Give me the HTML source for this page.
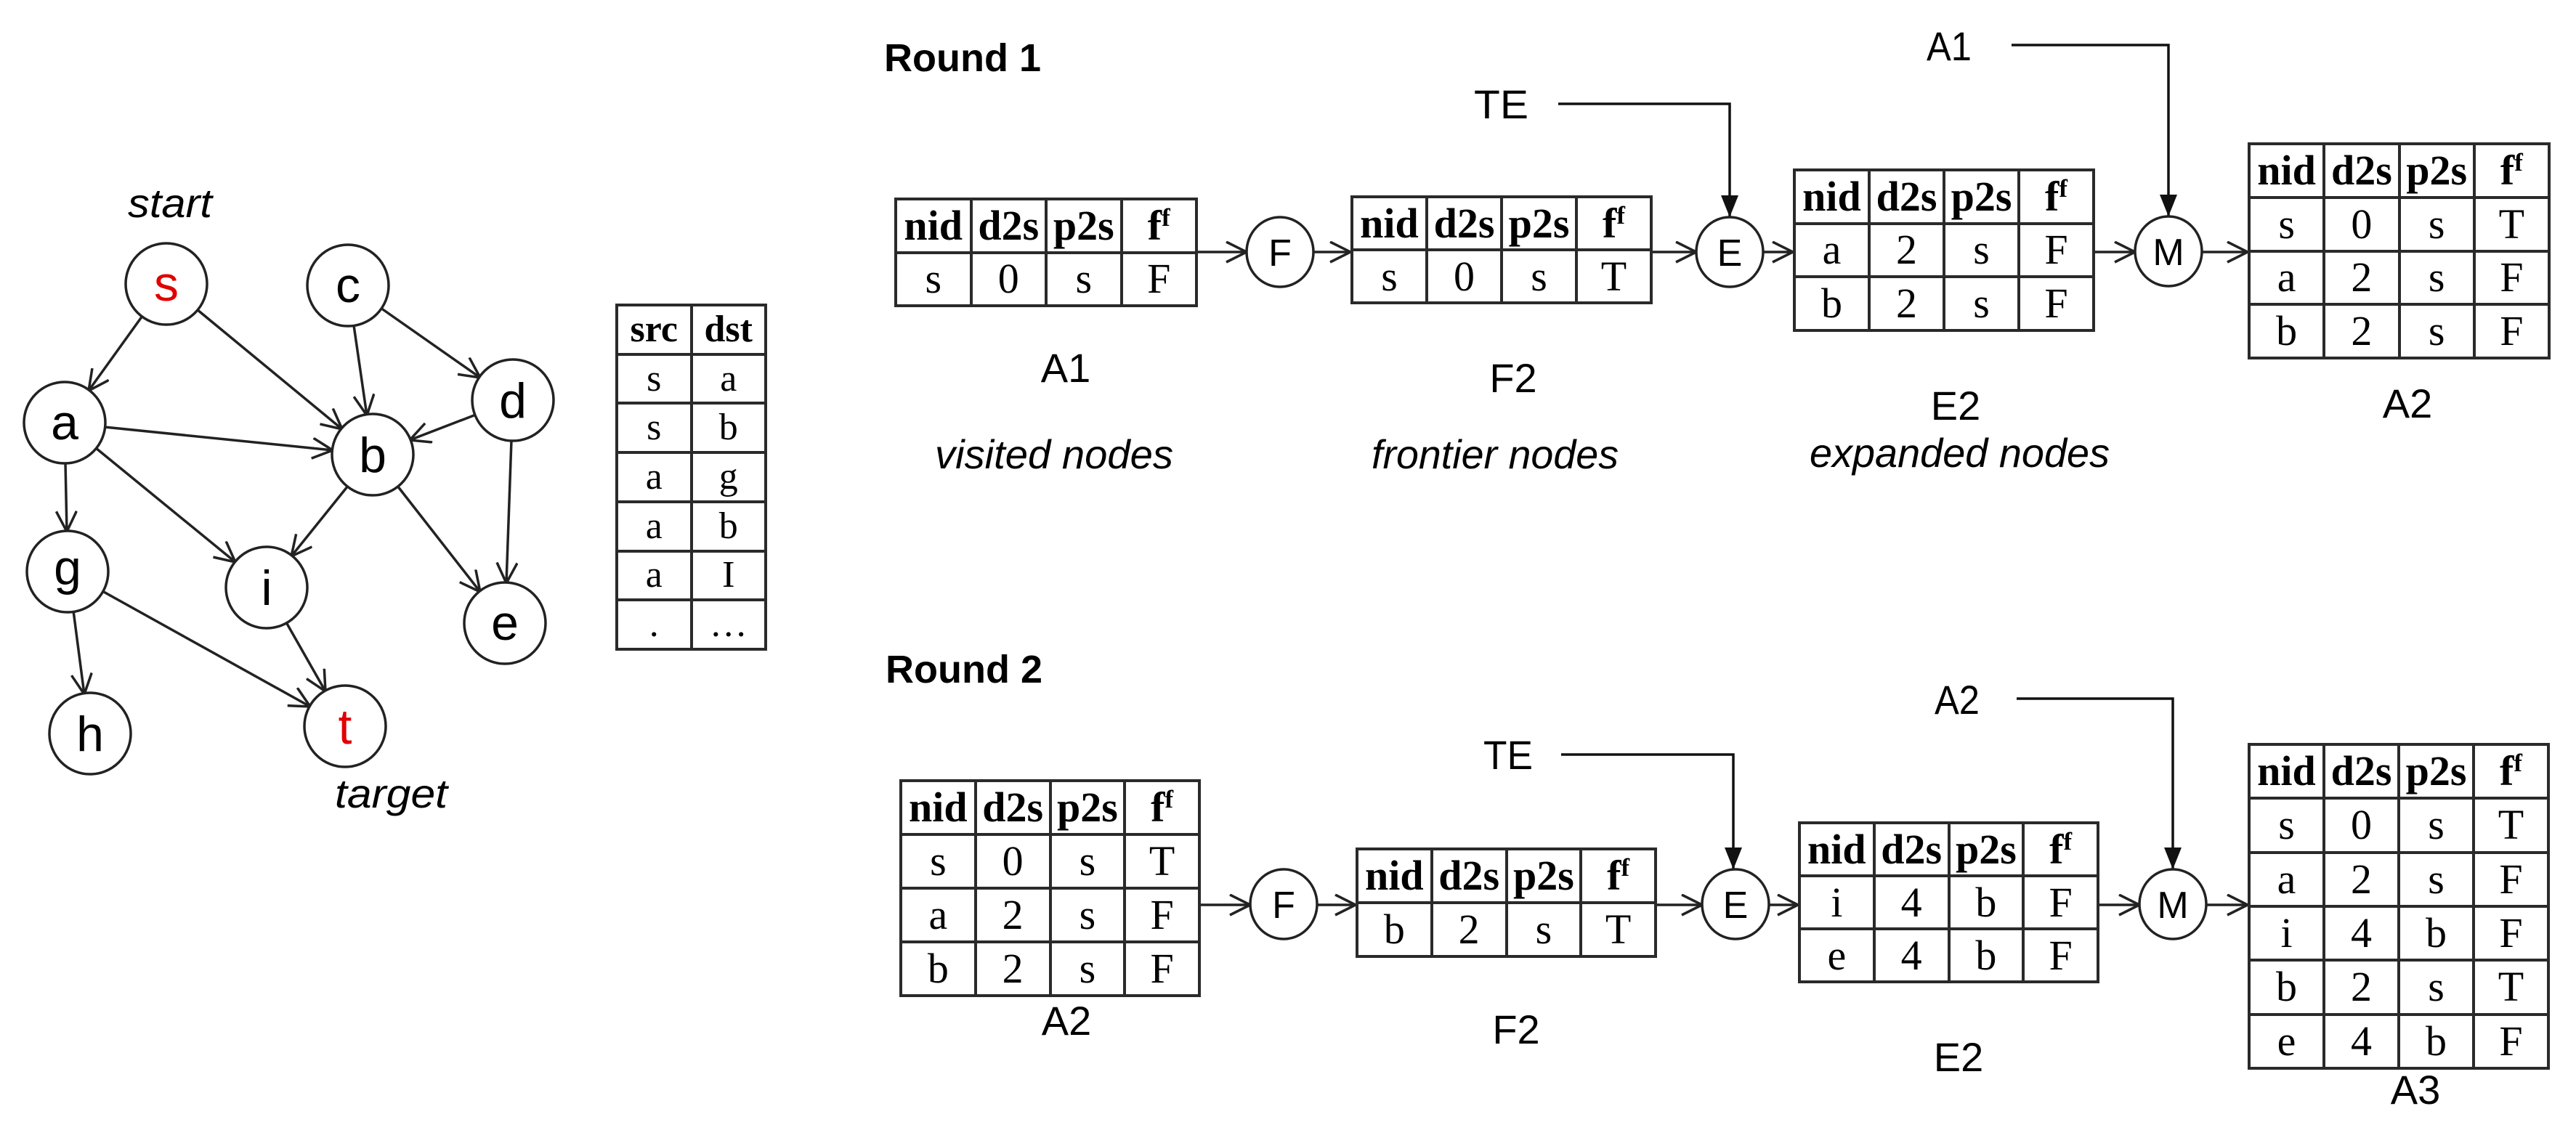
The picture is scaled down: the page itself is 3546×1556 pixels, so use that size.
<!DOCTYPE html>
<html><head><meta charset="utf-8"><style>
html,body{margin:0;padding:0;background:#fff;}
body{width:3546px;height:1556px;position:relative;overflow:hidden;}
svg{position:absolute;left:0;top:0;}
table.t{position:absolute;border-collapse:collapse;table-layout:fixed;font-family:"Liberation Serif",serif;font-size:58px;text-align:center;line-height:1;}
table.t td{border:4px solid #2a2a2a;padding:0;vertical-align:middle;overflow:hidden;}
table.t tr.h td{font-weight:bold;}
sup{font-size:0.6em;vertical-align:0.55em;line-height:0;}
</style></head><body>
<svg width="3546" height="1556" viewBox="0 0 3546 1556">
<defs>
<marker id="o" markerUnits="userSpaceOnUse" markerWidth="40" markerHeight="40" refX="30" refY="15" orient="auto"><path d="M2,1 L30,15 L2,29" fill="none" stroke="#222" stroke-width="3.5"/></marker>
<marker id="f" markerUnits="userSpaceOnUse" markerWidth="30" markerHeight="34" refX="13" refY="30" orient="0"><path d="M1,0 L25,0 L13,30 Z" fill="#111"/></marker>
</defs>
<g stroke="#222" stroke-width="3.5" fill="none" marker-end="url(#o)">
<line x1="196" y1="435" x2="122" y2="538"/>
<line x1="271" y1="426" x2="471" y2="591"/>
<line x1="487" y1="448" x2="505" y2="572"/>
<line x1="524" y1="424" x2="661" y2="520"/>
<line x1="144" y1="588" x2="458" y2="620"/>
<line x1="90" y1="637" x2="92" y2="732"/>
<line x1="132" y1="617" x2="324" y2="774"/>
<line x1="655" y1="571" x2="564" y2="606"/>
<line x1="704" y1="606" x2="697" y2="803"/>
<line x1="479" y1="669" x2="401" y2="766"/>
<line x1="547" y1="669" x2="661" y2="815"/>
<line x1="101" y1="841" x2="116" y2="956"/>
<line x1="141" y1="814" x2="427" y2="973"/>
<line x1="394" y1="857" x2="448" y2="952"/>
<line x1="1649" y1="347" x2="1716" y2="347"/>
<line x1="1808" y1="347" x2="1859" y2="347"/>
<line x1="2275" y1="347" x2="2335" y2="347"/>
<line x1="2427" y1="347" x2="2468" y2="347"/>
<line x1="2884" y1="347" x2="2939" y2="347"/>
<line x1="3031" y1="347" x2="3094" y2="347"/>
<line x1="1653" y1="1246" x2="1721" y2="1246"/>
<line x1="1813" y1="1246" x2="1866" y2="1246"/>
<line x1="2281" y1="1246" x2="2343" y2="1246"/>
<line x1="2435" y1="1246" x2="2475" y2="1246"/>
<line x1="2890" y1="1246" x2="2945" y2="1246"/>
<line x1="3037" y1="1246" x2="3094" y2="1246"/>
</g>
<g stroke="#111" stroke-width="3.5" fill="none" marker-end="url(#f)">
<path d="M2145,143 H2381 V299"/>
<path d="M2769,62 H2985 V298"/>
<path d="M2149,1039 H2386 V1197"/>
<path d="M2776,962 H2991 V1197"/>
</g>
<g stroke="#222" stroke-width="3.5" fill="#fff">
<circle cx="229" cy="391" r="56"/><circle cx="479" cy="393" r="56"/>
<circle cx="89" cy="582" r="56"/><circle cx="513" cy="626" r="56"/>
<circle cx="706" cy="551" r="56"/><circle cx="93" cy="787" r="56"/>
<circle cx="367" cy="809" r="56"/><circle cx="695" cy="858" r="56"/>
<circle cx="124" cy="1010" r="56"/><circle cx="475" cy="1000" r="56"/>
<ellipse cx="1762" cy="347" rx="46" ry="48"/><ellipse cx="2381" cy="347" rx="46" ry="48"/><ellipse cx="2985" cy="346" rx="46" ry="48"/>
<ellipse cx="1767" cy="1245" rx="46" ry="48"/><ellipse cx="2389" cy="1245" rx="46" ry="48"/><ellipse cx="2991" cy="1245" rx="46" ry="48"/>
</g>
<g font-family="Liberation Sans, sans-serif" font-size="68" text-anchor="middle" fill="#000">
<text x="229" y="414" fill="#e00000">s</text><text x="479" y="416">c</text>
<text x="89" y="605">a</text><text x="513" y="650">b</text>
<text x="706" y="575">d</text><text x="93" y="805">g</text>
<text x="367" y="833">i</text><text x="695" y="881">e</text>
<text x="124" y="1034">h</text><text x="475" y="1024" fill="#e00000">t</text>
</g>
<g font-family="Liberation Sans, sans-serif" font-size="52" text-anchor="middle" fill="#000">
<text x="1762" y="366">F</text><text x="2381" y="366">E</text><text x="2985" y="365">M</text>
<text x="1767" y="1264">F</text><text x="2389" y="1264">E</text><text x="2991" y="1264">M</text>
</g>
<g font-family="Liberation Sans, sans-serif" font-size="56" text-anchor="middle" fill="#000">
<text x="1467" y="526">A1</text><text x="2083" y="540">F2</text><text x="2692" y="578">E2</text><text x="3314" y="575">A2</text>
<text x="1468" y="1425">A2</text><text x="2087" y="1437">F2</text><text x="2696" y="1475">E2</text><text x="3325" y="1520">A3</text>
</g>
<g font-family="Liberation Sans, sans-serif" font-size="56" fill="#000">
<text x="2029" y="163" textLength="75" lengthAdjust="spacingAndGlyphs">TE</text>
<text x="2652" y="83" textLength="62" lengthAdjust="spacingAndGlyphs">A1</text>
<text x="2042" y="1059" textLength="68" lengthAdjust="spacingAndGlyphs">TE</text>
<text x="2663" y="983" textLength="62" lengthAdjust="spacingAndGlyphs">A2</text>
</g>
<g font-family="Liberation Sans, sans-serif" font-size="56" font-style="italic" fill="#000">
<text x="1287" y="645" textLength="328" lengthAdjust="spacingAndGlyphs">visited nodes</text>
<text x="1888" y="645" textLength="340" lengthAdjust="spacingAndGlyphs">frontier nodes</text>
<text x="2491" y="643" textLength="413" lengthAdjust="spacingAndGlyphs">expanded nodes</text>
<text x="176" y="299" textLength="116" lengthAdjust="spacingAndGlyphs">start</text>
<text x="461" y="1112" textLength="155" lengthAdjust="spacingAndGlyphs">target</text>
</g>
<g font-family="Liberation Sans, sans-serif" font-size="54" font-weight="bold" fill="#000">
<text x="1217" y="98">Round 1</text>
<text x="1219" y="940">Round 2</text>
</g>
</svg>

<table class="t" style="left:847px;top:418px;width:209px;height:478px;font-size:52px">
<tr class="h"><td>src</td><td>dst</td></tr>
<tr><td>s</td><td>a</td></tr><tr><td>s</td><td>b</td></tr><tr><td>a</td><td>g</td></tr>
<tr><td>a</td><td>b</td></tr><tr><td>a</td><td>I</td></tr><tr><td>.</td><td>…</td></tr>
</table>

<table class="t" style="left:1231px;top:272px;width:418px;height:151px">
<tr class="h"><td>nid</td><td>d2s</td><td>p2s</td><td>f<sup>f</sup></td></tr>
<tr><td>s</td><td>0</td><td>s</td><td>F</td></tr>
</table>
<table class="t" style="left:1859px;top:269px;width:416px;height:150px">
<tr class="h"><td>nid</td><td>d2s</td><td>p2s</td><td>f<sup>f</sup></td></tr>
<tr><td>s</td><td>0</td><td>s</td><td>T</td></tr>
</table>
<table class="t" style="left:2468px;top:232px;width:416px;height:225px">
<tr class="h"><td>nid</td><td>d2s</td><td>p2s</td><td>f<sup>f</sup></td></tr>
<tr><td>a</td><td>2</td><td>s</td><td>F</td></tr>
<tr><td>b</td><td>2</td><td>s</td><td>F</td></tr>
</table>
<table class="t" style="left:3094px;top:196px;width:417px;height:299px">
<tr class="h"><td>nid</td><td>d2s</td><td>p2s</td><td>f<sup>f</sup></td></tr>
<tr><td>s</td><td>0</td><td>s</td><td>T</td></tr>
<tr><td>a</td><td>2</td><td>s</td><td>F</td></tr>
<tr><td>b</td><td>2</td><td>s</td><td>F</td></tr>
</table>

<table class="t" style="left:1238px;top:1073px;width:415px;height:300px">
<tr class="h"><td>nid</td><td>d2s</td><td>p2s</td><td>f<sup>f</sup></td></tr>
<tr><td>s</td><td>0</td><td>s</td><td>T</td></tr>
<tr><td>a</td><td>2</td><td>s</td><td>F</td></tr>
<tr><td>b</td><td>2</td><td>s</td><td>F</td></tr>
</table>
<table class="t" style="left:1866px;top:1167px;width:415px;height:152px">
<tr class="h"><td>nid</td><td>d2s</td><td>p2s</td><td>f<sup>f</sup></td></tr>
<tr><td>b</td><td>2</td><td>s</td><td>T</td></tr>
</table>
<table class="t" style="left:2475px;top:1131px;width:415px;height:223px">
<tr class="h"><td>nid</td><td>d2s</td><td>p2s</td><td>f<sup>f</sup></td></tr>
<tr><td>i</td><td>4</td><td>b</td><td>F</td></tr>
<tr><td>e</td><td>4</td><td>b</td><td>F</td></tr>
</table>
<table class="t" style="left:3094px;top:1023px;width:416px;height:450px">
<tr class="h"><td>nid</td><td>d2s</td><td>p2s</td><td>f<sup>f</sup></td></tr>
<tr><td>s</td><td>0</td><td>s</td><td>T</td></tr>
<tr><td>a</td><td>2</td><td>s</td><td>F</td></tr>
<tr><td>i</td><td>4</td><td>b</td><td>F</td></tr>
<tr><td>b</td><td>2</td><td>s</td><td>T</td></tr>
<tr><td>e</td><td>4</td><td>b</td><td>F</td></tr>
</table>
</body></html>
